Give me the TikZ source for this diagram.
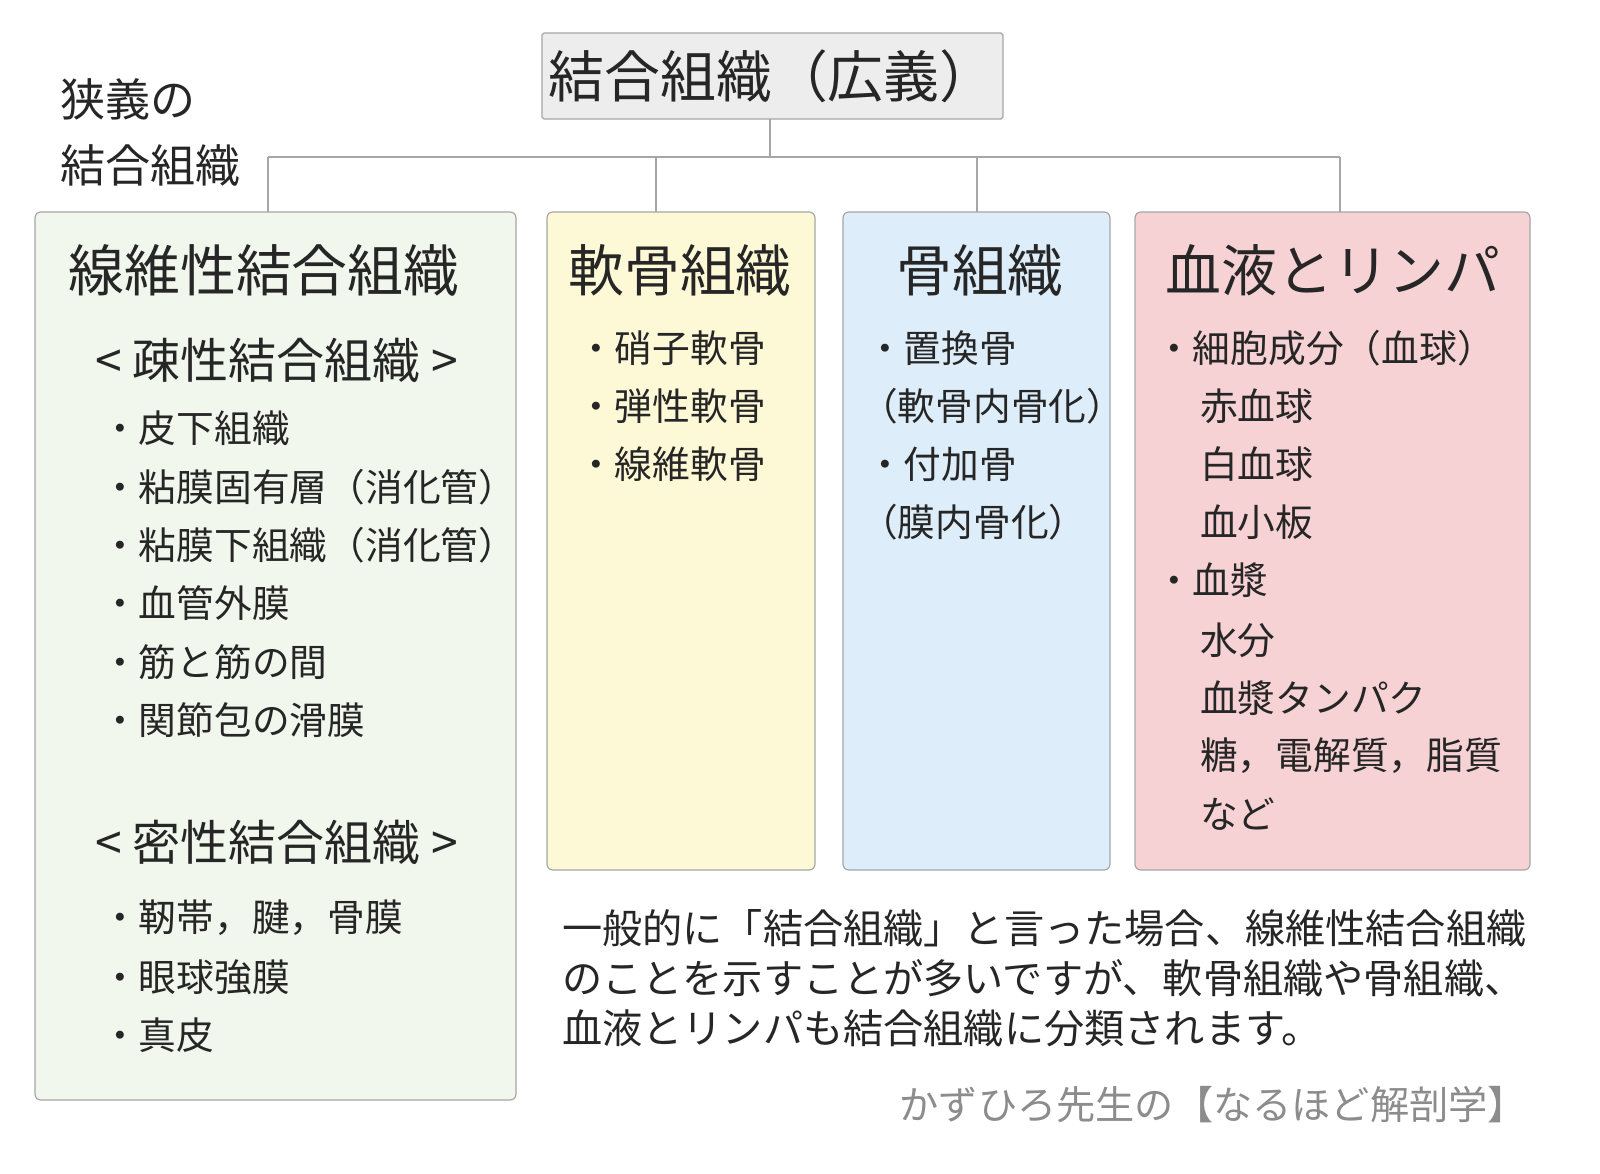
\documentclass[tikz,border=0pt]{standalone}
\usepackage{fontspec}
\setmainfont{Noto Sans CJK JP}
\begin{document}
\begin{tikzpicture}[x=1.0205pt,y=-1.0205pt,
  box/.style={draw=black!35,line width=1.2pt,rounded corners=6pt},
  conn/.style={draw=black!35,line width=1.2pt},
  it/.style={anchor=west,inner sep=0pt,font=\fontsize{38.5}{38.5}\selectfont,text=black!85},
  hd/.style={anchor=center,inner sep=0pt,font=\fontsize{57}{57}\selectfont,text=black!85},
  sh/.style={anchor=west,inner sep=0pt,font=\fontsize{49}{49}\selectfont,text=black!85}]
\useasboundingbox (0,0) rectangle (1600,1173);
\fill[white] (0,0) rectangle (1600,1173);
\definecolor{cg}{HTML}{F2F7EE}\definecolor{cy}{HTML}{FDF8D6}
\definecolor{cb}{HTML}{DDEDF9}\definecolor{cr}{HTML}{F7D2D4}
\draw[box,fill=black!7,rounded corners=2pt] (542,33) rectangle (1003,119);
\node[hd] (top) at (772,76) {結合組織（広義）};
\coordinate (tb) at (770,119); \coordinate (hj) at (770,157);
\coordinate (h1) at (268,157); \coordinate (h2) at (656,157);
\coordinate (h3) at (977,157); \coordinate (h4) at (1340,157);
\coordinate (b1) at (268,212); \coordinate (b2) at (656,212);
\coordinate (b3) at (977,212); \coordinate (b4) at (1340,212);
\draw[conn] (tb)--(hj); \draw[conn] (h1)--(h4);
\draw[conn] (h1)--(b1); \draw[conn] (h2)--(b2); \draw[conn] (h3)--(b3); \draw[conn] (h4)--(b4);
\draw[box,fill=cg] (35,212) rectangle (516,1100);
\draw[box,fill=cy] (547,212) rectangle (815,870);
\draw[box,fill=cb] (843,212) rectangle (1110,870);
\draw[box,fill=cr] (1135,212) rectangle (1530,870);
\node[anchor=north west,inner sep=0pt,align=left,font=\fontsize{46}{68}\selectfont,text=black!85] (nar) at (60,78) {狭義の\\結合組織};
% box1
\node[hd] (H1) at (264,270) {線維性結合組織};
\node[sh] (s1) at (95,360) {< 疎性結合組織 >};
\node[it] (a1) at (101,428) {・皮下組織};
\node[it] (a2) at (101,487) {・粘膜固有層（消化管）};
\node[it] (a3) at (101,545) {・粘膜下組織（消化管）};
\node[it] (a4) at (101,603) {・血管外膜};
\node[it] (a5) at (101,662) {・筋と筋の間};
\node[it] (a6) at (101,720) {・関節包の滑膜};
\node[sh] (s2) at (95,842) {< 密性結合組織 >};
\node[it] (a7) at (101,918) {・靭帯，腱，骨膜};
\node[it] (a8) at (101,977) {・眼球強膜};
\node[it] (a9) at (101,1035) {・真皮};
% box2
\node[hd] (H2) at (680,270) {軟骨組織};
\node[it] (c1) at (577,348) {・硝子軟骨};
\node[it] (c2) at (577,406) {・弾性軟骨};
\node[it] (c3) at (577,464) {・線維軟骨};
% box3
\node[hd] (H3) at (980,270) {骨組織};
\node[it] (d1) at (866,348) {・置換骨};
\node[it] (d2) at (860,406) {（軟骨内骨化）};
\node[it] (d3) at (866,464) {・付加骨};
\node[it] (d4) at (860,522) {（膜内骨化）};
% box4
\node[hd] (H4) at (1333,270) {血液とリンパ};
\node[it] (e1) at (1155,348) {・細胞成分（血球）};
\node[it] (e2) at (1200,406) {赤血球};
\node[it] (e3) at (1200,464) {白血球};
\node[it] (e4) at (1200,522) {血小板};
\node[it] (e5) at (1155,580) {・血漿};
\node[it] (e6) at (1200,640) {水分};
\node[it] (e7) at (1200,698) {血漿タンパク};
\node[it] (e8) at (1200,756) {糖，電解質，脂質};
\node[it] (e9) at (1200,814) {など};
% paragraph
\node[anchor=north west,inner sep=0pt,align=left,font=\fontsize{41}{51}\selectfont,text=black!85] (par) at (562,909)
 {一般的に「結合組織」と言った場合、線維性結合組織\\のことを示すことが多いですが、軟骨組織や骨組織、\\血液とリンパも結合組織に分類されます。};
\node[anchor=east,inner sep=0pt,font=\fontsize{40}{40}\selectfont,text=black!45] (ft) at (1527,1105) {かずひろ先生の【なるほど解剖学】};
\end{tikzpicture}
\end{document}
